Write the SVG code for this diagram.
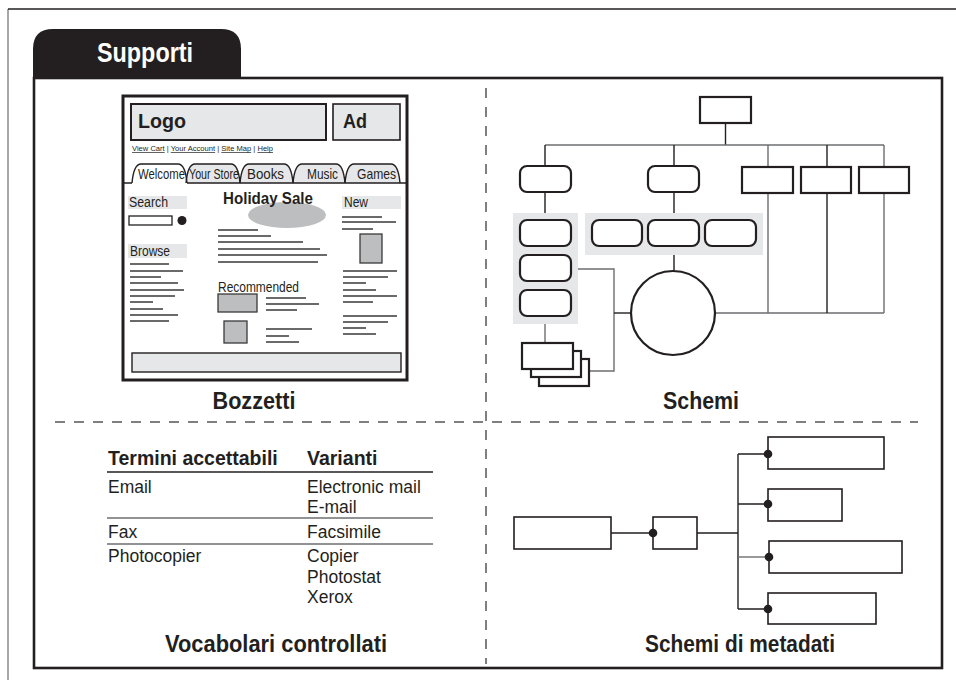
<svg xmlns="http://www.w3.org/2000/svg" width="956" height="680" viewBox="0 0 956 680">
  <style>
    text { font-family: "Liberation Sans", Arial, sans-serif; fill: #231f20; }
    .h { font-size: 24px; font-weight: bold; }
    .th { font-size: 19.5px; font-weight: bold; }
    .td { font-size: 17.5px; }
    .wf { font-size: 14px; }
    .tabt { font-size: 14.5px; }
    .wfb { font-weight: bold; }
    .ln { stroke: #3a3a3a; stroke-width: 1.3; fill: none; }
    .band { fill: #e6e7e8; }
    .gbox { fill: #bcbec0; stroke: #3a3a3a; stroke-width: 1.3; }
    .dash { stroke: #555; stroke-width: 1.5; stroke-dasharray: 10 9; fill: none; }
    .node { fill: #fff; stroke: #231f20; stroke-width: 2.2; }
    .mnode { fill: #fff; stroke: #231f20; stroke-width: 1.6; }
    .wire { stroke: #6d6e71; stroke-width: 1.4; fill: none; }
    .wired { stroke: #231f20; stroke-width: 1.4; fill: none; }
    .panel { fill: #e6e7e8; }
    .dot { fill: #231f20; }
    .tab { fill: #e6e7e8; }
    .tabline { fill: none; stroke: #231f20; stroke-width: 1.4; }
  </style>

  <!-- page edges -->
  <line x1="8" y1="9" x2="8" y2="680" stroke="#8a8a8a" stroke-width="1.5"/>
  <line x1="8" y1="9" x2="956" y2="9" stroke="#231f20" stroke-width="1.5"/>

  <!-- main panel with title tab -->
  <g id="panel">
    <rect x="34" y="78" width="908" height="590" fill="#fff" stroke="#231f20" stroke-width="2.6"/>
    <path d="M33 78 V49 Q33 29 53 29 H221 Q241 29 241 49 V78 Z" fill="#231f20"/>
    <text x="145" y="62" text-anchor="middle" textLength="96" lengthAdjust="spacingAndGlyphs" style="font-size:27px;font-weight:bold;fill:#fff">Supporti</text>
  </g>

  <!-- quadrant separators -->
  <g id="separators">
    <line class="dash" x1="55" y1="422" x2="918" y2="422"/>
    <line class="dash" x1="486" y1="88" x2="486" y2="664"/>
  </g>

  <!-- web page mock-up -->
  <g id="bozzetti">
    <rect x="123" y="96" width="284" height="284" fill="#fff" stroke="#231f20" stroke-width="3"/>
    <rect x="131" y="104" width="195" height="36" fill="#e6e7e8" stroke="#231f20" stroke-width="2"/>
    <text class="wfb" x="138" y="128" textLength="48" lengthAdjust="spacingAndGlyphs" style="font-size:21px">Logo</text>
    <rect x="333" y="104" width="67" height="36" fill="#e6e7e8" stroke="#231f20" stroke-width="1.6"/>
    <text class="wfb" x="343" y="128" textLength="24" lengthAdjust="spacingAndGlyphs" style="font-size:21px">Ad</text>
    <text x="132" y="151" textLength="141" lengthAdjust="spacingAndGlyphs" style="font-size:7px"><tspan text-decoration="underline">View Cart</tspan> | <tspan text-decoration="underline">Your Account</tspan> | <tspan text-decoration="underline">Site Map</tspan> | <tspan text-decoration="underline">Help</tspan></text>

    <!-- tab strip -->
    <path class="tab" d="M345 183 C346 172 348 164 354 164 H391 C397 164 399 172 400 183 Z"/>
    <path class="tab" d="M293 183 C294 172 296 164 302 164 H336 C342 164 344 172 345 183 Z"/>
    <path class="tab" d="M240 183 C241 172 243 164 249 164 H284 C290 164 292 172 293 183 Z"/>
    <path class="tab" d="M186 183 C187 172 189 164 195 164 H231 C237 164 239 172 240 183 Z"/>
    <path d="M132 183 C133 172 135 164 141 164 H178 C184 164 186 172 187 183 Z" fill="#fff"/>
    <text class="tabt" x="138" y="179" textLength="47" lengthAdjust="spacingAndGlyphs">Welcome</text>
    <text class="tabt" x="189" y="179" textLength="50" lengthAdjust="spacingAndGlyphs">Your Store</text>
    <text class="tabt" x="247" y="179" textLength="37" lengthAdjust="spacingAndGlyphs">Books</text>
    <text class="tabt" x="307" y="179" textLength="31" lengthAdjust="spacingAndGlyphs">Music</text>
    <text class="tabt" x="357" y="179" textLength="39" lengthAdjust="spacingAndGlyphs">Games</text>
    <path class="tabline" d="M345 183 C346 172 348 164 354 164 H391 C397 164 399 172 400 183"/>
    <path class="tabline" d="M293 183 C294 172 296 164 302 164 H336 C342 164 344 172 345 183"/>
    <path class="tabline" d="M240 183 C241 172 243 164 249 164 H284 C290 164 292 172 293 183"/>
    <path class="tabline" d="M186 183 C187 172 189 164 195 164 H231 C237 164 239 172 240 183"/>
    <path class="tabline" d="M132 183 C133 172 135 164 141 164 H178 C184 164 186 172 187 183"/>
    <path class="tabline" d="M123 183 H132 M187 183 H407"/>

    <!-- left column -->
    <rect class="band" x="128" y="196" width="59" height="13"/>
    <text class="wf" x="129" y="207" textLength="39" lengthAdjust="spacingAndGlyphs">Search</text>
    <rect x="129" y="216" width="43" height="9" fill="#fff" stroke="#231f20" stroke-width="1.3"/>
    <circle class="dot" cx="182" cy="220.5" r="4.5"/>
    <rect class="band" x="128" y="244" width="59" height="14"/>
    <text class="wf" x="130" y="256" textLength="40" lengthAdjust="spacingAndGlyphs">Browse</text>
    <path class="ln" d="M130 264H169 M130 271H183 M130 277H161 M130 283H178 M130 290H184 M130 296H175 M130 302H153 M130 309H163 M130 315H178 M130 321H169"/>

    <!-- centre column -->
    <ellipse cx="287" cy="215" rx="39" ry="13" fill="#bcbec0"/>
    <text class="wfb" x="223" y="204" textLength="90" lengthAdjust="spacingAndGlyphs" style="font-size:17px">Holiday Sale</text>
    <path class="ln" d="M218 230H258 M218 236H271 M218 242H303 M218 249H320 M218 255H327 M218 262H318"/>
    <text class="wf" x="218" y="292" textLength="81" lengthAdjust="spacingAndGlyphs">Recommended</text>
    <rect class="gbox" x="218" y="294" width="39" height="18"/>
    <path class="ln" d="M266 298H306 M266 304H319 M266 310H297"/>
    <rect class="gbox" x="224" y="321" width="23" height="22"/>
    <path class="ln" d="M266 329H312 M266 336H289 M266 342H299"/>

    <!-- right column -->
    <rect class="band" x="342" y="196" width="59" height="13"/>
    <text class="wf" x="344" y="207" textLength="24" lengthAdjust="spacingAndGlyphs">New</text>
    <path class="ln" d="M342 217H382 M342 222H396 M342 229H373"/>
    <rect class="gbox" x="360" y="234" width="22" height="29"/>
    <path class="ln" d="M343 271H397 M343 277H388 M343 283H366 M343 290H376 M343 296H397 M343 302H373 M343 316H397 M343 322H388 M343 328H366 M343 334H376"/>

    <!-- footer -->
    <rect x="132" y="353" width="269" height="19" fill="#e6e7e8" stroke="#231f20" stroke-width="1.4"/>
    <text class="h" x="254" y="409" text-anchor="middle" textLength="83" lengthAdjust="spacingAndGlyphs">Bozzetti</text>
  </g>

  <!-- site structure diagram -->
  <g id="schemi">
    <rect class="panel" x="513" y="213" width="65" height="111"/>
    <rect class="panel" x="585" y="213" width="178" height="42"/>

    <g id="schemi-connectors">
      <line class="wired" x1="725.5" y1="123" x2="725.5" y2="145"/>
      <line class="wire" x1="545" y1="145" x2="884" y2="145"/>
      <path class="wired" d="M545 145V166 M674 145V166"/>
      <path class="wire" d="M768 145V167 M884 145V167"/>
      <path class="wired" d="M827 145V167"/>
      <path class="wired" d="M545 192V213 M674 192V213 M674 255V271"/>
      <path class="wire" d="M768 193V313 M884 193V313 M715 313H884"/>
      <path class="wired" d="M827 193V313"/>
      <path class="wire" d="M578 269H614V371H589"/>
      <path class="wired" d="M614 313H631"/>
      <path class="wire" d="M545 324V343"/>
    </g>

    <g id="s-root"><rect class="node" x="700" y="97" width="51" height="26"/></g>
    <g id="s-a"><rect class="node" x="520" y="166" width="51" height="26" rx="7"/></g>
    <g id="s-b"><rect class="node" x="648" y="166" width="51" height="26" rx="7"/></g>
    <g id="s-c"><rect class="node" x="742" y="167" width="51" height="26"/></g>
    <g id="s-d"><rect class="node" x="801" y="167" width="50" height="26"/></g>
    <g id="s-e"><rect class="node" x="859" y="167" width="50" height="26"/></g>
    <g id="s-a1"><rect class="node" x="520" y="220" width="51" height="26" rx="7"/></g>
    <g id="s-a2"><rect class="node" x="520" y="255" width="51" height="26" rx="7"/></g>
    <g id="s-a3"><rect class="node" x="520" y="290" width="51" height="26" rx="7"/></g>
    <g id="s-b1"><rect class="node" x="592" y="220" width="50" height="26" rx="7"/></g>
    <g id="s-b2"><rect class="node" x="648" y="220" width="51" height="26" rx="7"/></g>
    <g id="s-b3"><rect class="node" x="705" y="220" width="51" height="26" rx="7"/></g>
    <g id="s-hub"><circle class="node" cx="673" cy="313" r="42"/></g>
    <g id="s-docs">
      <rect class="node" x="539" y="359" width="50" height="27"/>
      <rect class="node" x="531" y="351" width="50" height="26"/>
      <rect class="node" x="522" y="343" width="51" height="26"/>
    </g>
    <text class="h" x="701" y="409" text-anchor="middle" textLength="76" lengthAdjust="spacingAndGlyphs">Schemi</text>
  </g>

  <!-- controlled vocabulary table -->
  <g id="vocabolari">
    <text class="th" x="108" y="465">Termini accettabili</text>
    <text class="th" x="307" y="465">Varianti</text>
    <line x1="107" y1="472" x2="433" y2="472" stroke="#231f20" stroke-width="1.5"/>
    <text class="td" x="108" y="493">Email</text>
    <text class="td" x="307" y="493">Electronic mail</text>
    <text class="td" x="307" y="513">E-mail</text>
    <line x1="107" y1="518" x2="433" y2="518" stroke="#6d6e71" stroke-width="1.5"/>
    <text class="td" x="108" y="538">Fax</text>
    <text class="td" x="307" y="538">Facsimile</text>
    <line x1="107" y1="544" x2="433" y2="544" stroke="#6d6e71" stroke-width="1.5"/>
    <text class="td" x="108" y="562">Photocopier</text>
    <text class="td" x="307" y="562">Copier</text>
    <text class="td" x="307" y="583">Photostat</text>
    <text class="td" x="307" y="603">Xerox</text>
    <text class="h" x="276" y="652" text-anchor="middle" textLength="222" lengthAdjust="spacingAndGlyphs">Vocabolari controllati</text>
  </g>

  <!-- metadata schema -->
  <g id="metadati">
    <g id="metadati-connectors">
      <path class="wired" d="M611 533H653 M697 533H738 M738 454V609 M738 454H768 M738 504H768 M738 609H768"/>
      <path class="wire" d="M738 557H769"/>
    </g>
    <g id="m-root"><rect class="mnode" x="514" y="517" width="97" height="32"/></g>
    <g id="m-mid"><rect class="mnode" x="653" y="517" width="44" height="32"/></g>
    <g id="m-1"><rect class="mnode" x="768" y="437" width="116" height="32"/></g>
    <g id="m-2"><rect class="mnode" x="768" y="489" width="74" height="32"/></g>
    <g id="m-3"><rect class="mnode" x="769" y="541" width="133" height="32"/></g>
    <g id="m-4"><rect class="mnode" x="768" y="593" width="108" height="31"/></g>
    <circle class="dot" cx="653" cy="533" r="4.3"/>
    <circle class="dot" cx="768" cy="454" r="4.3"/>
    <circle class="dot" cx="768" cy="504" r="4.3"/>
    <circle class="dot" cx="769" cy="557" r="4.3"/>
    <circle class="dot" cx="768" cy="609" r="4.3"/>
    <text class="h" x="740" y="652" text-anchor="middle" textLength="190" lengthAdjust="spacingAndGlyphs">Schemi di metadati</text>
  </g>
</svg>
